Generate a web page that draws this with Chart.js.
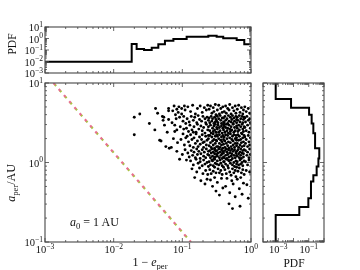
<!DOCTYPE html>
<html>
<head>
<meta charset="utf-8">
<script src="https://cdn.jsdelivr.net/npm/chart.js@4.4.1/dist/chart.umd.min.js"></script>
<style>
html, body { margin: 0; padding: 0; background: #fff; }
#wrap { position: relative; width: 360px; height: 270px; }
#wrap canvas { position: absolute; left: 0; top: 0; }
</style>
</head>
<body>
<div id="wrap">
  <canvas id="mainChart" width="360" height="270"></canvas>
  <canvas id="topHist" width="360" height="270"></canvas>
  <canvas id="sideHist" width="360" height="270"></canvas>
</div>
<script>
// scatter points: [log10(1 - e_per), log10(a_per / AU)]
const scatterPts = [
  [-1.70,0.57],[-1.62,0.61],[-1.70,0.35],[-1.48,0.49],[-1.40,0.41],[-1.39,0.68],[-1.31,0.27],[-1.29,0.58],
  [-1.24,0.20],[-1.20,0.65],[-1.19,0.18],[-1.28,0.53],[-1.26,0.47],[-1.20,0.68],[-1.14,0.65],[-1.27,0.57],
  [-1.20,0.54],[-1.15,0.50],[-1.11,0.47],[-1.08,0.41],[-1.04,0.04],[-1.08,0.14],[-1.16,0.19],[-1.07,0.25],
  [-1.33,0.28],[-1.36,0.62],[-1.22,0.38],[-1.13,0.30],[-1.10,0.60],[-1.05,0.70],
  [-1.12,0.71],[-1.09,0.55],[-1.06,0.63],[-1.03,0.45],[-1.01,0.68],[-0.99,0.36],[-0.98,0.58],[-0.97,0.22],
  [-0.96,0.66],[-1.00,0.10],[-1.02,0.29],[-0.95,0.49],[-0.94,0.03],[-1.11,0.39],[-0.97,0.71],[-1.04,0.57],
  [-0.99,0.52],[-0.95,0.31],[-1.08,0.67],[-0.96,0.16],[-1.01,0.61],[-0.98,0.42],
  [-0.92,0.70],[-0.88,0.64],[-0.85,0.72],[-0.81,0.61],[-0.78,0.68],[-0.74,0.71],[-0.71,0.63],[-0.68,0.69],
  [-0.65,0.66],[-0.63,0.72],[-0.93,0.55],[-0.90,0.51],[-0.87,0.58],[-0.84,0.53],[-0.82,0.57],[-0.79,0.50],
  [-0.77,0.59],[-0.75,0.54],[-0.72,0.52],[-0.70,0.58],[-0.67,0.55],[-0.66,0.50],[-0.64,0.57],[-0.62,0.53],
  [-0.94,0.43],[-0.91,0.39],[-0.89,0.47],[-0.86,0.41],[-0.83,0.45],[-0.80,0.38],[-0.78,0.48],[-0.76,0.42],
  [-0.73,0.46],[-0.71,0.40],[-0.69,0.44],[-0.67,0.37],[-0.65,0.48],[-0.63,0.41],[-0.84,0.38],
  [-0.93,0.33],[-0.91,0.26],[-0.89,0.21],[-0.88,0.35],[-0.86,0.29],[-0.84,0.19],[-0.83,0.31],[-0.81,0.24],
  [-0.80,0.36],[-0.78,0.27],[-0.77,0.20],[-0.75,0.32],[-0.74,0.23],[-0.72,0.29],[-0.71,0.35],[-0.69,0.19],
  [-0.68,0.26],[-0.66,0.33],[-0.65,0.22],[-0.64,0.28],[-0.62,0.34],[-0.70,0.25],
  [-0.92,0.12],[-0.90,0.07],[-0.87,0.15],[-0.85,0.09],[-0.83,0.13],[-0.81,0.06],[-0.79,0.17],[-0.78,0.10],
  [-0.76,0.14],[-0.74,0.05],[-0.73,0.11],[-0.71,0.16],[-0.69,0.08],[-0.68,0.13],[-0.66,0.06],[-0.65,0.17],
  [-0.63,0.10],[-0.62,0.14],
  [-0.88,0.02],[-0.84,-0.03],[-0.80,0.04],[-0.77,-0.01],[-0.74,0.01],[-0.71,-0.04],[-0.69,0.03],[-0.67,-0.02],
  [-0.64,0.00],[-0.62,-0.05],[-0.86,-0.08],[-0.79,-0.12],[-0.75,-0.07],[-0.70,-0.14],[-0.66,-0.10],[-0.63,-0.15],
  [-0.82,-0.19],[-0.73,-0.23],[-0.67,-0.27],[-0.64,-0.21],
  [-0.61,0.67],[-0.59,0.71],[-0.57,0.62],[-0.55,0.69],[-0.54,0.64],[-0.52,0.73],[-0.51,0.60],
  [-0.61,0.56],[-0.60,0.50],[-0.58,0.58],[-0.57,0.52],[-0.56,0.55],[-0.54,0.49],[-0.53,0.57],[-0.52,0.51],
  [-0.51,0.54],[-0.50,0.59],[-0.62,0.45],[-0.60,0.40],[-0.59,0.47],[-0.58,0.37],[-0.56,0.43],[-0.55,0.39],
  [-0.54,0.46],[-0.53,0.41],[-0.52,0.48],[-0.51,0.38],[-0.50,0.44],
  [-0.62,0.30],[-0.61,0.21],[-0.60,0.34],[-0.59,0.25],[-0.58,0.19],[-0.57,0.32],[-0.56,0.27],[-0.55,0.36],
  [-0.55,0.22],[-0.54,0.29],[-0.53,0.18],[-0.52,0.33],[-0.52,0.24],[-0.51,0.28],[-0.50,0.35],[-0.50,0.20],
  [-0.61,0.09],[-0.60,0.15],[-0.59,0.06],[-0.58,0.12],[-0.57,0.17],[-0.56,0.08],[-0.55,0.13],[-0.54,0.05],
  [-0.53,0.11],[-0.53,0.16],[-0.52,0.07],[-0.51,0.14],[-0.50,0.10],[-0.57,0.03],
  [-0.61,0.01],[-0.59,-0.03],[-0.56,0.02],[-0.55,-0.04],[-0.53,0.04],[-0.52,-0.01],[-0.50,-0.02],
  [-0.60,-0.09],[-0.58,-0.14],[-0.55,-0.11],[-0.53,-0.06],[-0.51,-0.13],
  [-0.59,-0.22],[-0.56,-0.30],[-0.53,-0.19],[-0.51,-0.36],
  [-0.49,0.66],[-0.47,0.72],[-0.46,0.61],[-0.44,0.68],[-0.42,0.63],[-0.41,0.70],
  [-0.50,0.52],[-0.49,0.58],[-0.48,0.50],[-0.47,0.55],[-0.45,0.59],[-0.44,0.53],[-0.43,0.49],[-0.42,0.56],
  [-0.40,0.51],[-0.49,0.42],[-0.48,0.47],[-0.47,0.38],[-0.46,0.44],[-0.45,0.40],[-0.43,0.46],[-0.42,0.37],
  [-0.41,0.43],[-0.40,0.48],
  [-0.50,0.27],[-0.49,0.33],[-0.48,0.20],[-0.47,0.30],[-0.46,0.24],[-0.46,0.35],[-0.45,0.19],[-0.44,0.28],
  [-0.43,0.32],[-0.43,0.22],[-0.42,0.26],[-0.41,0.34],[-0.41,0.18],[-0.40,0.29],
  [-0.50,0.15],[-0.49,0.08],[-0.48,0.12],[-0.47,0.17],[-0.46,0.06],[-0.45,0.13],[-0.44,0.09],[-0.43,0.16],
  [-0.42,0.05],[-0.42,0.11],[-0.41,0.14],[-0.40,0.07],
  [-0.49,0.02],[-0.47,-0.03],[-0.45,0.03],[-0.44,-0.01],[-0.42,-0.04],[-0.40,0.01],
  [-0.48,-0.08],[-0.46,-0.13],[-0.44,-0.10],[-0.42,-0.15],[-0.40,-0.06],
  [-0.49,-0.25],[-0.46,-0.41],[-0.43,-0.20],[-0.41,-0.32],
  [-0.39,0.64],[-0.37,0.71],[-0.36,0.62],[-0.34,0.68],[-0.32,0.66],[-0.31,0.73],[-0.29,0.61],[-0.27,0.69],
  [-0.25,0.65],[-0.23,0.71],[-0.22,0.62],
  [-0.40,0.56],[-0.39,0.50],[-0.38,0.58],[-0.37,0.53],[-0.35,0.55],[-0.34,0.49],[-0.33,0.59],[-0.32,0.52],
  [-0.30,0.57],[-0.29,0.51],[-0.28,0.54],[-0.27,0.59],[-0.26,0.49],[-0.25,0.56],[-0.24,0.52],[-0.22,0.58],
  [-0.21,0.54],
  [-0.40,0.41],[-0.39,0.46],[-0.38,0.38],[-0.37,0.44],[-0.36,0.48],[-0.35,0.40],[-0.34,0.43],[-0.33,0.37],
  [-0.32,0.47],[-0.31,0.42],[-0.30,0.39],[-0.29,0.45],[-0.28,0.41],[-0.26,0.48],[-0.25,0.38],[-0.24,0.44],
  [-0.23,0.40],[-0.21,0.46],
  [-0.40,0.23],[-0.39,0.32],[-0.38,0.27],[-0.38,0.19],[-0.37,0.35],[-0.36,0.24],[-0.35,0.30],[-0.34,0.21],
  [-0.34,0.34],[-0.33,0.26],[-0.32,0.18],[-0.31,0.31],[-0.30,0.25],[-0.30,0.36],[-0.29,0.20],[-0.28,0.29],
  [-0.27,0.33],[-0.26,0.22],[-0.26,0.27],[-0.25,0.35],[-0.24,0.19],[-0.23,0.30],[-0.23,0.24],[-0.22,0.34],
  [-0.21,0.21],[-0.21,0.28],
  [-0.40,0.12],[-0.39,0.06],[-0.38,0.15],[-0.37,0.09],[-0.36,0.17],[-0.35,0.05],[-0.35,0.13],[-0.34,0.10],
  [-0.33,0.16],[-0.32,0.07],[-0.31,0.12],[-0.30,0.15],[-0.29,0.08],[-0.28,0.11],[-0.28,0.17],[-0.27,0.05],
  [-0.26,0.14],[-0.25,0.09],[-0.24,0.16],[-0.23,0.06],[-0.22,0.12],[-0.21,0.09],[-0.33,0.03],
  [-0.39,0.01],[-0.37,-0.02],[-0.36,0.04],[-0.34,-0.04],[-0.32,0.02],[-0.30,-0.01],[-0.29,0.03],[-0.27,-0.03],
  [-0.25,0.00],[-0.24,-0.05],[-0.22,0.02],[-0.21,-0.02],
  [-0.38,-0.09],[-0.36,-0.14],[-0.33,-0.07],[-0.31,-0.12],[-0.29,-0.16],[-0.27,-0.08],[-0.25,-0.13],[-0.23,-0.10],
  [-0.21,-0.06],[-0.35,-0.20],[-0.28,-0.23],[-0.22,-0.18],
  [-0.37,-0.30],[-0.31,-0.38],[-0.26,-0.27],[-0.23,-0.43],[-0.32,-0.52],[-0.27,-0.58],
  [-0.20,0.67],[-0.18,0.72],[-0.16,0.63],[-0.14,0.69],[-0.12,0.61],[-0.11,0.66],
  [-0.21,0.50],[-0.20,0.57],[-0.19,0.53],[-0.17,0.59],[-0.16,0.51],[-0.15,0.55],[-0.13,0.58],[-0.12,0.50],
  [-0.11,0.54],[-0.10,0.57],
  [-0.20,0.43],[-0.19,0.39],[-0.18,0.47],[-0.17,0.41],[-0.15,0.45],[-0.14,0.37],[-0.13,0.48],[-0.12,0.42],
  [-0.11,0.39],[-0.10,0.45],
  [-0.21,0.31],[-0.20,0.24],[-0.19,0.35],[-0.18,0.19],[-0.18,0.28],[-0.17,0.33],[-0.16,0.22],[-0.15,0.29],
  [-0.14,0.25],[-0.13,0.36],[-0.13,0.20],[-0.12,0.31],[-0.11,0.26],[-0.10,0.34],[-0.10,0.21],
  [-0.21,0.14],[-0.20,0.08],[-0.19,0.16],[-0.18,0.11],[-0.17,0.06],[-0.16,0.13],[-0.15,0.17],[-0.15,0.09],
  [-0.14,0.05],[-0.13,0.12],[-0.12,0.15],[-0.11,0.07],[-0.11,0.11],[-0.10,0.16],
  [-0.20,0.01],[-0.18,-0.03],[-0.16,0.03],[-0.15,-0.02],[-0.13,0.00],[-0.12,-0.04],[-0.10,0.02],
  [-0.19,-0.11],[-0.17,-0.07],[-0.14,-0.13],[-0.12,-0.09],[-0.10,-0.15],
  [-0.20,-0.21],[-0.17,-0.33],[-0.15,-0.19],[-0.13,-0.40],[-0.11,-0.26],[-0.16,-0.55],
  [-0.09,0.70],[-0.07,0.64],[-0.04,0.68],[-0.02,0.62],[-0.09,0.56],[-0.08,0.51],[-0.06,0.58],[-0.04,0.53],
  [-0.02,0.55],[-0.01,0.50],[-0.09,0.44],[-0.07,0.40],[-0.05,0.47],[-0.03,0.38],[-0.01,0.43],[-0.09,0.32],
  [-0.08,0.24],[-0.07,0.29],[-0.05,0.20],[-0.04,0.34],[-0.03,0.26],[-0.02,0.22],[-0.01,0.31],[-0.08,0.15],
  [-0.06,0.09],[-0.05,0.13],[-0.03,0.06],[-0.02,0.17],[-0.01,0.10],[-0.08,0.01],[-0.05,-0.03],[-0.03,0.03],
  [-0.07,-0.10],[-0.02,-0.12],[-0.06,-0.28],[-0.04,-0.45]
];

// dashed boundary a_per (1 - e_per) = const
const limitOneMinusE = [0.00133, 0.133];
const limitA = [10, 0.1];

// top histogram: bin edges in 1 - e_per and PDF per bin
const topEdges = [0.001, 0.0183, 0.0216, 0.0277, 0.0358, 0.0447, 0.0558, 0.0741, 0.1156, 0.239, 0.316, 0.394, 0.619, 0.798, 1.0];
const topPdf = [0.0095, 0.33, 0.12, 0.10, 0.16, 0.32, 0.65, 0.9, 1.45, 1.75, 1.45, 1.05, 0.74, 0.32];

// side histogram: bin edges in a_per (top to bottom) and PDF per bin
const sideEdges = [10, 6.3, 4.9, 3.98, 3.09, 2.34, 1.51, 1.12, 0.89, 0.69, 0.575, 0.355, 0.275, 0.219, 0.1];
const sidePdf = [0.00068, 0.0069, 0.105, 0.155, 0.2, 0.26, 0.49, 0.43, 0.33, 0.2, 0.14, 0.094, 0.024, 0.00068];

// labelled decades
const mainXTickExp = [-3, -2, -1, 0];
const mainYTickExp = [-1, 0, 1];
const topYTickExp = [-3, -2, -1, 0, 1];
const sideXTickExp = [-3, -1];

const FONT = '"Liberation Serif", "DejaVu Serif", serif';
const INK = '#111';

function drawRich(ctx, parts, x, y, size, align) {
    const fontFor = p => (p.i ? 'italic ' : '') + ((p.sub || p.sup) ? size * 0.72 : size) + 'px ' + FONT;
    let w = 0;
    parts.forEach(p => {
        ctx.font = fontFor(p);
        p.w = ctx.measureText(p.t).width;
        w += p.w;
    });
    let cx = align === 'center' ? x - w / 2 : (align === 'right' ? x - w : x);
    ctx.textAlign = 'left';
    ctx.textBaseline = 'alphabetic';
    parts.forEach(p => {
        ctx.font = fontFor(p);
        const dy = p.sub ? size * 0.28 : (p.sup ? -size * 0.42 : 0);
        ctx.fillText(p.t, cx, y + dy);
        cx += p.w;
    });
}

function powerLabel(k) {
    return [{ t: '10' }, { t: k < 0 ? '\u2212' + (-k) : String(k), sup: true }];
}

function logTicks(scale) {
    const out = [];
    const lo = Math.floor(Math.log10(scale.min) - 1e-9);
    const hi = Math.ceil(Math.log10(scale.max) + 1e-9);
    for (let k = lo; k <= hi; k++) {
        for (let m = 1; m <= 9; m++) {
            const v = m * Math.pow(10, k);
            if (v < scale.min * 0.9999 || v > scale.max * 1.0001) continue;
            out.push({ px: scale.getPixelForValue(v), major: m === 1 });
        }
    }
    return out;
}

// matplotlib-like frame: spines, inward ticks on every side, power labels, titles
function framePlugin(cfg) {
    return {
        id: 'frame',
        afterDraw(chart) {
            const { ctx, chartArea: a, scales } = chart;
            ctx.save();
            ctx.strokeStyle = '#555';
            ctx.lineWidth = 1.2;
            ctx.strokeRect(a.left, a.top, a.right - a.left, a.bottom - a.top);
            ctx.lineWidth = 0.8;
            ctx.strokeStyle = '#444';
            ctx.beginPath();
            logTicks(scales.x).forEach(t => {
                const len = t.major ? 4 : 2;
                ctx.moveTo(t.px, a.bottom); ctx.lineTo(t.px, a.bottom - len);
                ctx.moveTo(t.px, a.top); ctx.lineTo(t.px, a.top + len);
            });
            logTicks(scales.y).forEach(t => {
                const len = t.major ? 4 : 2;
                ctx.moveTo(a.left, t.px); ctx.lineTo(a.left + len, t.px);
                ctx.moveTo(a.right, t.px); ctx.lineTo(a.right - len, t.px);
            });
            ctx.stroke();

            ctx.fillStyle = INK;
            (cfg.xLabels || []).forEach(k => {
                drawRich(ctx, powerLabel(k), scales.x.getPixelForValue(Math.pow(10, k)), a.bottom + 11, 10.5, 'center');
            });
            (cfg.yLabels || []).forEach(k => {
                drawRich(ctx, powerLabel(k), a.left - 2, scales.y.getPixelForValue(Math.pow(10, k)) + 4, 10.5, 'right');
            });
            (cfg.texts || []).forEach(tx => {
                ctx.save();
                ctx.translate(tx.x, tx.y);
                if (tx.rot) ctx.rotate(tx.rot);
                drawRich(ctx, tx.parts, 0, 0, tx.size, tx.align || 'center');
                ctx.restore();
            });
            ctx.restore();
        }
    };
}

const baseOptions = (padding, xRange, yRange) => ({
    responsive: false,
    animation: false,
    events: [],
    layout: { padding: padding },
    plugins: { legend: { display: false }, tooltip: { enabled: false } },
    scales: {
        x: { type: 'logarithmic', min: xRange[0], max: xRange[1], display: false },
        y: { type: 'logarithmic', min: yRange[0], max: yRange[1], display: false }
    }
});

// main scatter
new Chart(document.getElementById('mainChart'), {
    type: 'scatter',
    data: {
        datasets: [
            {
                data: scatterPts.map(p => ({ x: Math.pow(10, p[0]), y: Math.pow(10, p[1]) })),
                pointRadius: 1.45,
                pointBorderWidth: 0,
                backgroundColor: '#000'
            },
            {
                data: limitOneMinusE.map((v, i) => ({ x: v, y: limitA[i] })),
                showLine: true,
                pointRadius: 0,
                borderColor: '#e8708f',
                borderWidth: 2.2,
                borderDash: [2.5, 5.5]
            },
            {
                data: limitOneMinusE.map((v, i) => ({ x: v, y: limitA[i] })),
                showLine: true,
                pointRadius: 0,
                borderColor: '#a9c444',
                borderWidth: 2.2,
                borderDash: [2.5, 5.5],
                borderDashOffset: -1.5
            }
        ]
    },
    options: baseOptions({ left: 45, right: 109, top: 83, bottom: 28 }, [1e-3, 1], [0.1, 10]),
    plugins: [framePlugin({
        xLabels: mainXTickExp,
        yLabels: mainYTickExp,
        texts: [
            { x: 150, y: 266, size: 12, parts: [{ t: '1 \u2212 ' }, { t: 'e', i: true }, { t: 'per', sub: true }] },
            { x: 15, y: 183, size: 12, rot: -Math.PI / 2, parts: [{ t: 'a', i: true }, { t: 'per', sub: true }, { t: '/AU' }] },
            { x: 70, y: 226, size: 12, align: 'left', parts: [{ t: 'a', i: true }, { t: '0', sub: true }, { t: ' = 1\u2009AU' }] }
        ]
    })]
});

// top histogram of 1 - e_per
const topStep = [];
topPdf.forEach((v, i) => {
    topStep.push({ x: topEdges[i], y: v }, { x: topEdges[i + 1], y: v });
});
new Chart(document.getElementById('topHist'), {
    type: 'scatter',
    data: {
        datasets: [{
            data: topStep,
            showLine: true,
            pointRadius: 0,
            borderColor: '#000',
            borderWidth: 2,
            borderJoinStyle: 'miter'
        }]
    },
    options: baseOptions({ left: 45, right: 109, top: 27, bottom: 197 }, [1e-3, 1], [1e-3, 10]),
    plugins: [framePlugin({
        yLabels: topYTickExp,
        texts: [
            { x: 16, y: 44, size: 11.5, rot: -Math.PI / 2, parts: [{ t: 'PDF' }] }
        ]
    })]
});

// side histogram of a_per
const sideStep = [];
sidePdf.forEach((v, i) => {
    sideStep.push({ x: v, y: sideEdges[i] }, { x: v, y: sideEdges[i + 1] });
});
new Chart(document.getElementById('sideHist'), {
    type: 'scatter',
    data: {
        datasets: [{
            data: sideStep,
            showLine: true,
            pointRadius: 0,
            borderColor: '#000',
            borderWidth: 2,
            borderJoinStyle: 'miter'
        }]
    },
    options: baseOptions({ left: 263, right: 36, top: 83, bottom: 28 }, [1e-4, 1], [0.1, 10]),
    plugins: [framePlugin({
        xLabels: sideXTickExp,
        texts: [
            { x: 294, y: 267, size: 11.5, parts: [{ t: 'PDF' }] }
        ]
    })]
});
</script>
</body>
</html>
